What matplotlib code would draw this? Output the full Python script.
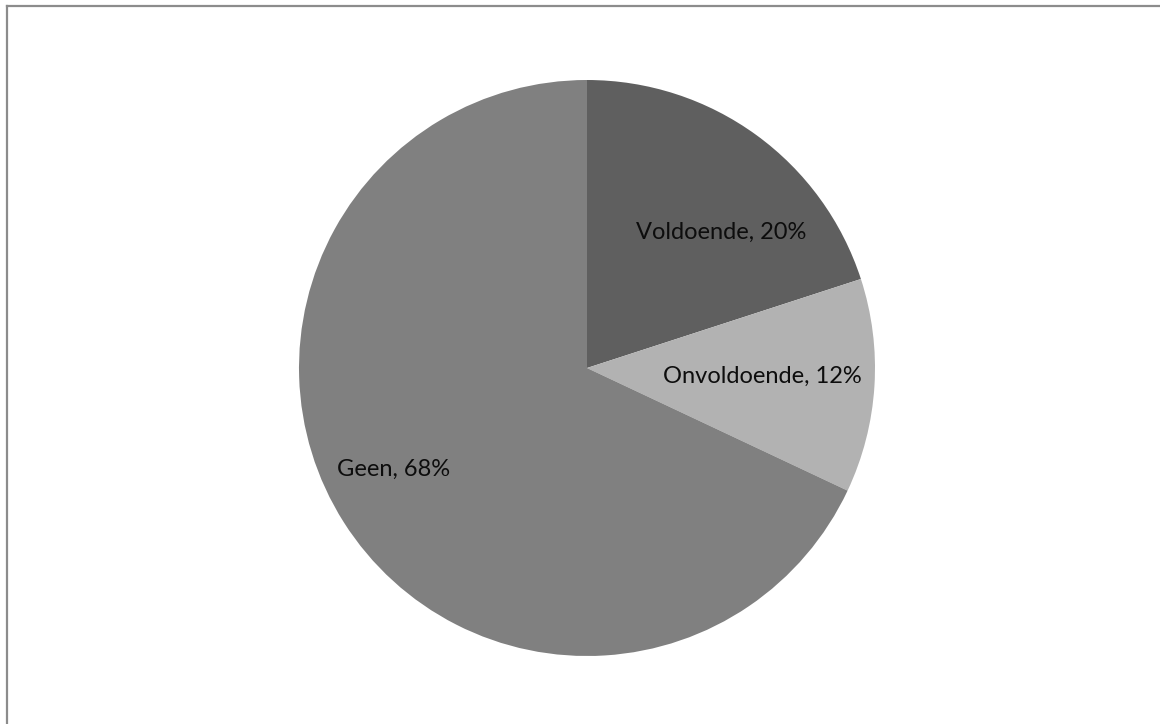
import matplotlib
matplotlib.use('Agg')
import matplotlib.pyplot as plt
from matplotlib.lines import Line2D
import numpy as np

## Pie data
labels = ['Voldoende', 'Onvoldoende', 'Geen']
shares = [20, 12, 68]
colors = ['#5f5f5f', '#b2b2b2', '#808080']

## Label positions as (radius fraction, angle in degrees)
label_pos = [(0.663, 45.4), (0.608, -2.6), (0.756, 207.6)]

plt.rcParams['font.family'] = ['Lato', 'DejaVu Sans']

W, H = 1160, 724
fig = plt.figure(figsize=(W/100, H/100), dpi=100)

## Pie placed so it spans x 299..875, y 80..656 (pixels)
cx, cy, r = 587, 368, 288
ax = fig.add_axes([(cx-r)/W, (H-cy-r)/H, 2*r/W, 2*r/H])
ax.pie(shares, colors=colors, startangle=90, counterclock=False, radius=1,
       wedgeprops=dict(linewidth=0))
ax.set_xlim(-1, 1)
ax.set_ylim(-1, 1)
ax.set_aspect('equal')
ax.axis('off')

for lab, val, (rf, ang) in zip(labels, shares, label_pos):
    a = np.deg2rad(ang)
    ax.text(rf*np.cos(a), rf*np.sin(a), f'{lab}, {val}%', ha='center', va='center',
            fontsize=17, color='#0d0d0d')

## Chart frame (only top and left edges show)
fig.add_artist(Line2D([6.5/W, 1.0], [1-6/H, 1-6/H], transform=fig.transFigure,
                      color='#8c8c8c', linewidth=1.6))
fig.add_artist(Line2D([6.5/W, 6.5/W], [0, 1-6/H], transform=fig.transFigure,
                      color='#8c8c8c', linewidth=1.6))

fig.savefig('out.png', dpi=100, facecolor='white')
